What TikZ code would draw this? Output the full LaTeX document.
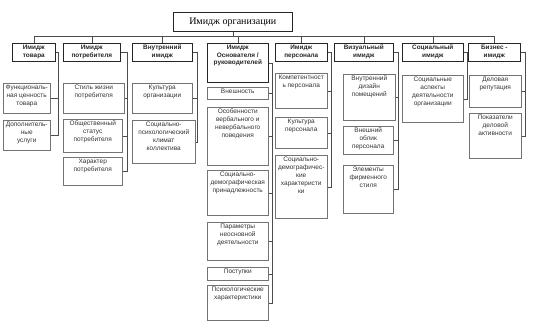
\documentclass[tikz,border=0pt]{standalone}
\usepackage{fontspec}
\setmainfont{Liberation Serif}
\newfontfamily\boxfont{Liberation Sans}
\usetikzlibrary{positioning}

\tikzset{
  link/.style={draw=black!70, line width=0.5pt},
  head/.style={draw=black!85, line width=0.6pt, inner sep=0pt, anchor=north west},
  kid/.style={draw=black!55, line width=0.5pt, inner sep=0pt, anchor=north west},
  htxt/.style={anchor=north, align=center, inner sep=1.5pt, text=black!85,
    font=\boxfont\bfseries\fontsize{6.4}{7.9}\selectfont},
  txt/.style={anchor=north, align=center, inner sep=1.7pt, text=black!80,
    font=\boxfont\fontsize{6.5}{8.1}\selectfont}
}

\begin{document}
\begin{tikzpicture}[x=1pt, y=-1pt]
  \useasboundingbox (0,0) rectangle (544,332);
  % top
  \node[head, minimum width=119pt, minimum height=19pt, font=\fontsize{10}{12}\selectfont] (org) at (173,12) {Имидж организации};

  % category row
  \node[head, minimum width=43pt, minimum height=18pt, label={[htxt]north:{Имидж\\товара}}] (tovar) at (12,43) {};
  \node[head, minimum width=57pt, minimum height=18pt, label={[htxt]north:{Имидж\\потребителя}}] (potreb) at (63,43) {};
  \node[head, minimum width=60pt, minimum height=18pt, label={[htxt]north:{Внутренний\\имидж}}] (vnutr) at (132,43) {};
  \node[head, minimum width=61pt, minimum height=39pt, label={[htxt]north:{Имидж\\Основателя /\\руководителей}}] (osnov) at (207,43) {};
  \node[head, minimum width=52pt, minimum height=18pt, label={[htxt]north:{Имидж\\персонала}}] (personal) at (275,43) {};
  \node[head, minimum width=59pt, minimum height=18pt, label={[htxt]north:{Визуальный\\имидж}}] (vizual) at (334,43) {};
  \node[head, minimum width=61pt, minimum height=18pt, label={[htxt]north:{Социальный\\имидж}}] (social) at (402,43) {};
  \node[head, minimum width=52pt, minimum height=18pt, label={[htxt]north:{Бизнес -\\имидж}}] (biznes) at (468,43) {};

  % bus
  \draw[link] (org.south) -- ++(0,5) coordinate (bus);
  \draw[link] (tovar.north) -- (tovar.north |- bus) -- (biznes.north |- bus) -- (biznes.north);
  \foreach \n in {potreb, vnutr, osnov, personal, vizual, social}
    \draw[link] (\n.north) -- (\n.north |- bus);

  % Имидж товара
  \node[kid, minimum width=47pt, minimum height=30pt, label={[txt]north:{Функциональ-\\ная ценность\\товара}}] (funk) at (3,83) {};
  \node[kid, minimum width=47pt, minimum height=30pt, label={[txt]north:{Дополнитель-\\ные\\услуги}}] (dop) at (3,120) {};

  % Имидж потребителя
  \node[kid, minimum width=61pt, minimum height=30pt, label={[txt]north:{Стиль жизни\\потребителя}}] (stil) at (63,83) {};
  \node[kid, minimum width=59pt, minimum height=33pt, label={[txt]north:{Общественный\\статус\\потребителя}}] (obsh) at (63,119) {};
  \node[kid, minimum width=59pt, minimum height=28pt, label={[txt]north:{Характер\\потребителя}}] (harakter) at (63,157) {};

  % Внутренний имидж
  \node[kid, minimum width=60pt, minimum height=30pt, label={[txt]north:{Культура\\организации}}] (kult) at (132,83) {};
  \node[kid, minimum width=63pt, minimum height=43pt, label={[txt]north:{Социально-\\психологический\\климат\\коллектива}}] (klimat) at (132,120) {};

  % Имидж Основателя
  \node[kid, minimum width=61pt, minimum height=12pt, label={[txt]north:{Внешность}}] (vnesh) at (207,87) {};
  \node[kid, minimum width=61pt, minimum height=58pt, label={[txt]north:{Особенности\\вербального и\\невербального\\поведения}}] (osob) at (207,107) {};
  \node[kid, minimum width=61pt, minimum height=45pt, label={[txt]north:{Социально-\\демографическая\\принадлежность}}] (demogr) at (207,170) {};
  \node[kid, minimum width=61pt, minimum height=38pt, label={[txt]north:{Параметры\\неосновной\\деятельности}}] (param) at (207,222) {};
  \node[kid, minimum width=61pt, minimum height=13pt, label={[txt]north:{Поступки}}] (postupki) at (207,267) {};
  \node[kid, minimum width=61pt, minimum height=35pt, label={[txt]north:{Психологические\\характеристики}}] (psih) at (207,285) {};

  % Имидж персонала
  \node[kid, minimum width=52pt, minimum height=35pt, label={[txt]north:{Компетентност\\ь персонала}}] (komp) at (275,73) {};
  \node[kid, minimum width=52pt, minimum height=31pt, label={[txt]north:{Культура\\персонала}}] (kultp) at (275,117) {};
  \node[kid, minimum width=52pt, minimum height=63pt, label={[txt]north:{Социально-\\демографичес-\\кие\\характеристи\\ки}}] (socdem) at (275,155) {};

  % Визуальный имидж
  \node[kid, minimum width=52pt, minimum height=46pt, label={[txt]north:{Внутренний\\дизайн\\помещений}}] (dizain) at (343,74) {};
  \node[kid, minimum width=50pt, minimum height=28pt, label={[txt]north:{Внешний\\облик\\персонала}}] (oblik) at (343,126) {};
  \node[kid, minimum width=50pt, minimum height=48pt, label={[txt]north:{Элементы\\фирменного\\стиля}}] (elem) at (343,165) {};

  % Социальный имидж
  \node[kid, minimum width=61pt, minimum height=47pt, label={[txt]north:{Социальные\\аспекты\\деятельности\\организации}}] (aspekty) at (402,75) {};

  % Бизнес-имидж
  \node[kid, minimum width=52pt, minimum height=32pt, label={[txt]north:{Деловая\\репутация}}] (delovaya) at (469,75) {};
  \node[kid, minimum width=52pt, minimum height=45pt, label={[txt]north:{Показатели\\деловой\\активности}}] (pokaz) at (469,113) {};

  % brackets
  \coordinate (brA) at (58,0);
  \coordinate (brB) at (127,0);
  \coordinate (brC) at (197,0);
  \coordinate (brD) at (272,0);
  \coordinate (brE) at (331,0);
  \coordinate (brF) at (398,0);
  \coordinate (brG) at (467,0);
  \coordinate (brH) at (525,0);
  \draw[link] (tovar.east) -- (tovar.east -| brA) |- (dop.east);
  \draw[link] (funk.east) -- (funk.east -| brA);
  \draw[link] (potreb.east) -- (potreb.east -| brB) |- (harakter.east);
  \foreach \n in {stil, obsh}
    \draw[link] (\n.east) -- (\n.east -| brB);
  \draw[link] (vnutr.east) -- (vnutr.east -| brC) |- (klimat.east);
  \draw[link] (kult.east) -- (kult.east -| brC);
  \draw[link] (osnov.east) -- (osnov.east -| brD) |- (psih.east);
  \foreach \n in {vnesh, osob, demogr, param, postupki}
    \draw[link] (\n.east) -- (\n.east -| brD);
  \draw[link] (personal.east) -- (personal.east -| brE) |- (socdem.east);
  \foreach \n in {komp, kultp}
    \draw[link] (\n.east) -- (\n.east -| brE);
  \draw[link] (vizual.east) -- (vizual.east -| brF) |- (elem.east);
  \foreach \n in {dizain, oblik}
    \draw[link] (\n.east) -- (\n.east -| brF);
  \draw[link] (social.east) -- (social.east -| brG) |- (aspekty.east);
  \draw[link] (biznes.east) -- (biznes.east -| brH) |- (pokaz.east);
  \draw[link] (delovaya.east) -- (delovaya.east -| brH);
\end{tikzpicture}
\end{document}
